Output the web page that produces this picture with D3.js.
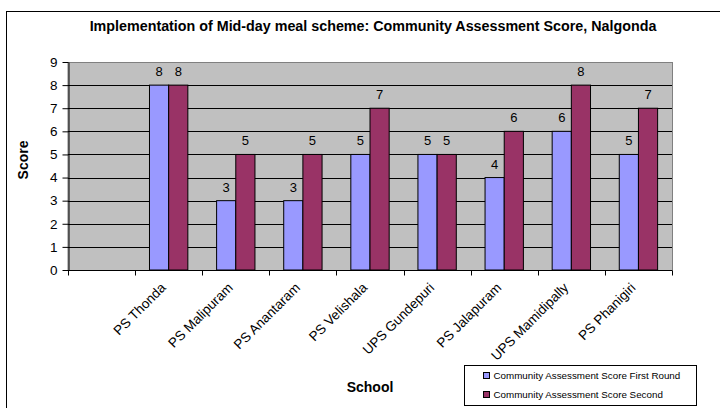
<!DOCTYPE html>
<html>
<head>
<meta charset="utf-8">
<script src="https://d3js.org/d3.v7.min.js"></script>
<style>
body { margin: 0; overflow: hidden; background: #fff; }
svg { font-family: "Liberation Sans", Arial, sans-serif; }
</style>
</head>
<body>
<svg width="720" height="408"></svg>
<script>
// data
const schools = ['', 'PS Thonda', 'PS Malipuram', 'PS Anantaram', 'PS Velishala',
  'UPS Gundepuri', 'PS Jalapuram', 'UPS Mamidipally', 'PS Phanigiri'];
const firstRound = [null, 8, 3, 3, 5, 5, 4, 6, 5];
const secondRound = [null, 8, 5, 5, 7, 5, 6, 8, 7];
const seriesNames = ['Community Assessment Score First Round', 'Community Assessment Score Second'];
const seriesColors = ['#9999ff', '#993366'];
const yTicks = [0, 1, 2, 3, 4, 5, 6, 7, 8, 9];

const svg = d3.select('svg');

// outer chart border (runs off right / bottom)
svg.append('rect')
  .attr('x', 6.5).attr('y', 11.5)
  .attr('width', 720).attr('height', 420)
  .attr('fill', 'white').attr('stroke', 'black');

const pLeft = 68, pRight = 672, pTop = 62, pBottom = 270;

const x = d3.scaleBand().domain(d3.range(schools.length)).range([pLeft, pRight]).padding(0);
const bw = x.bandwidth() / 3.5;
const y = d3.scaleLinear().domain([0, 9]).range([pBottom, pTop]);

// plot area
svg.append('rect')
  .attr('x', pLeft).attr('y', pTop + 0.5)
  .attr('width', pRight - pLeft + 0.5).attr('height', pBottom - pTop)
  .attr('fill', '#c0c0c0').attr('stroke', '#808080');

// gridlines
svg.append('g').selectAll('line').data(yTicks.slice(1, -1)).join('line')
  .attr('x1', pLeft).attr('x2', pRight)
  .attr('y1', d => Math.round(y(d)) + 0.5).attr('y2', d => Math.round(y(d)) + 0.5)
  .attr('stroke', 'black');

// bars
const rows = schools.map((s, i) => ({ i, vals: [firstRound[i], secondRound[i]] }));
const groups = svg.append('g').selectAll('g').data(rows).join('g');
groups.selectAll('rect')
  .data(d => d.vals.map((v, k) => ({ i: d.i, v, k })).filter(d => d.v != null))
  .join('rect')
    .attr('x', d => x(d.i) + bw * 0.75 + d.k * bw)
    .attr('y', d => y(d.v))
    .attr('width', bw)
    .attr('height', d => y(0) - y(d.v))
    .attr('fill', d => seriesColors[d.k])
    .attr('stroke', 'black').attr('stroke-width', 1);

groups.selectAll('text')
  .data(d => d.vals.map((v, k) => ({ i: d.i, v, k })).filter(d => d.v != null))
  .join('text')
    .attr('x', d => x(d.i) + bw * 0.75 + d.k * bw + bw / 2)
    .attr('y', d => y(d.v) - 9)
    .attr('text-anchor', 'middle')
    .attr('font-size', 13)
    .text(d => d.v);

// y axis
const yAxis = svg.append('g')
  .attr('transform', `translate(${pLeft + 0.5},0)`)
  .call(d3.axisLeft(y).tickValues(yTicks).tickSize(6).tickSizeOuter(0));
yAxis.select('.domain').attr('stroke', 'black');
yAxis.selectAll('text').attr('font-size', 13.5).attr('font-family', 'Liberation Sans, Arial').attr('fill', 'black').attr('dx', -2);

// x axis
const xAxis = svg.append('g').attr('transform', `translate(0,${pBottom + 0.5})`);
xAxis.append('line').attr('x1', pLeft).attr('x2', pRight).attr('stroke', 'black');
xAxis.selectAll('line.t').data(d3.range(schools.length + 1)).join('line')
  .attr('class', 't')
  .attr('x1', d => Math.round(pLeft + d * x.bandwidth()) + 0.5)
  .attr('x2', d => Math.round(pLeft + d * x.bandwidth()) + 0.5)
  .attr('y1', 0).attr('y2', 5).attr('stroke', 'black');
xAxis.selectAll('text').data(schools).join('text')
  .attr('transform', (d, i) => `translate(${x(i) + x.bandwidth() / 2 - 2},${18}) rotate(-45)`)
  .attr('text-anchor', 'end')
  .attr('font-size', 13.5)
  .text(d => d);

// title and axis titles
svg.append('text').attr('x', 373).attr('y', 31)
  .attr('text-anchor', 'middle').attr('font-weight', 'bold').attr('font-size', 14.3)
  .text('Implementation of Mid-day meal scheme: Community Assessment Score, Nalgonda');
svg.append('text')
  .attr('transform', 'translate(28,160) rotate(-90)')
  .attr('text-anchor', 'middle').attr('font-weight', 'bold').attr('font-size', 14)
  .text('Score');
svg.append('text').attr('x', 370).attr('y', 392)
  .attr('text-anchor', 'middle').attr('font-weight', 'bold').attr('font-size', 14)
  .text('School');

// legend
const lg = svg.append('g').attr('transform', 'translate(464.5,365.5)');
lg.append('rect').attr('width', 232).attr('height', 40).attr('fill', 'white').attr('stroke', 'black');
const li = lg.selectAll('g').data(seriesNames).join('g')
  .attr('transform', (d, i) => `translate(19,${7 + i * 19})`);
li.append('rect').attr('width', 6).attr('height', 6)
  .attr('fill', (d, i) => seriesColors[i]).attr('stroke', 'black');
li.append('text').attr('x', 10).attr('y', 3).attr('dy', '0.35em')
  .attr('font-size', 9.8).text(d => d);
</script>
</body>
</html>
